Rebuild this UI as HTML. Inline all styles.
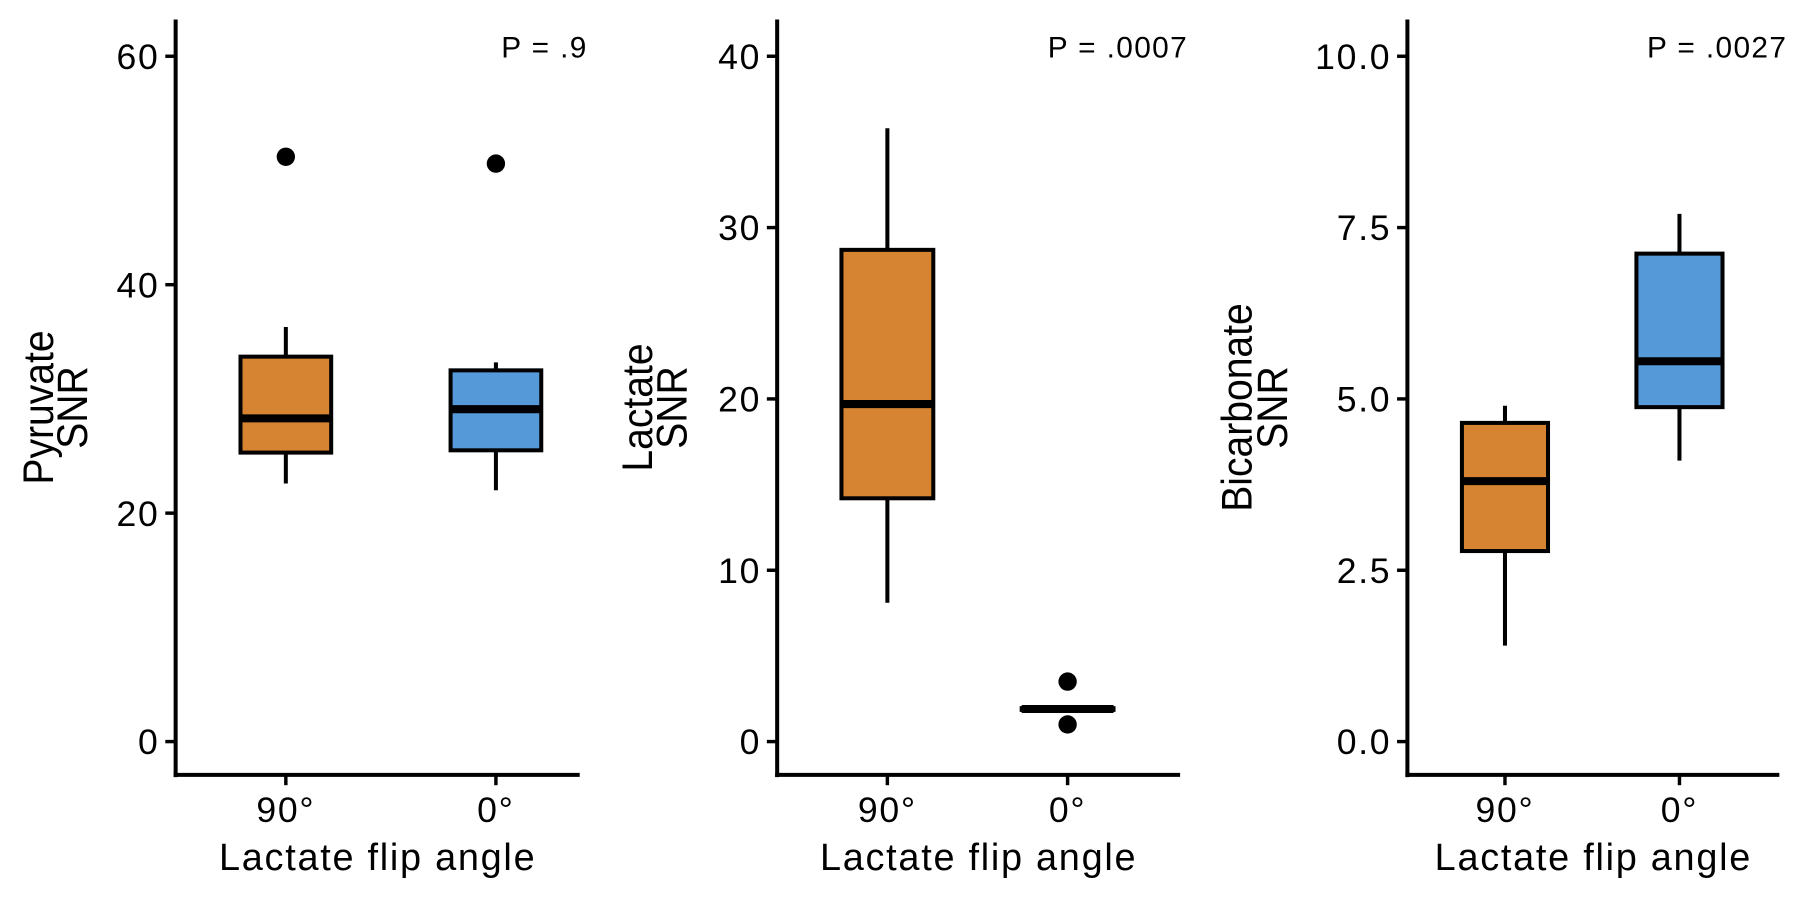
<!DOCTYPE html>
<html><head><meta charset="utf-8"><style>
html,body{margin:0;padding:0;background:#fff;}
svg{display:block;font-family:"Liberation Sans",Arial,sans-serif;}
</style></head><body>
<svg id="chart" width="1800" height="900" viewBox="0 0 1568 784" xmlns="http://www.w3.org/2000/svg"></svg>
<script>
const categories = ["90°", "0°"];
const panelTitles = ["Pyruvate", "Lactate", "Bicarbonate"];
const pValues = ["P = .9", "P = .0007", "P = .0027"];
const pyrTicks = [0, 20, 40, 60];
const lacTicks = [0, 10, 20, 30, 40];
const bicTicks = [0, 2.5, 5, 7.5, 10];
const bicTickLabels = ["0.0", "2.5", "5.0", "7.5", "10.0"];
// [whiskerLow, q1, median, q3, whiskerHigh]
const pyrStats = [[22.6, 25.3, 28.3, 33.7, 36.3], [22.0, 25.5, 29.1, 32.5, 33.2]];
const pyrOutliers = [[51.2], [50.6]];
const lacStats = [[8.1, 14.2, 19.7, 28.7, 35.8], [1.9, 1.85, 1.9, 1.95, 1.9]];
const lacOutliers = [[], [3.5, 1.0]];
const bicStats = [[1.4, 2.78, 3.8, 4.65, 4.9], [4.1, 4.88, 5.55, 7.12, 7.7]];
const bicOutliers = [[], []];
const colors = ["#D68432", "#5599D8"];

const NS = "http://www.w3.org/2000/svg";
const svg = document.getElementById("chart");
function mk(tag, attrs, parent) {
  const e = document.createElementNS(NS, tag);
  for (const k in attrs) e.setAttribute(k, attrs[k]);
  (parent || svg).appendChild(e);
  return e;
}
const panels = [
  {ax: 153, xEnd: 505, cx: [249, 432], bw: 79, max: 60, ticks: pyrTicks, labels: pyrTicks.map(String), stats: pyrStats, out: pyrOutliers, tx: [33, 63], pName: "pyruvate"},
  {ax: 677, xEnd: 1028, cx: [773, 930], bw: 80, max: 40, ticks: lacTicks, labels: lacTicks.map(String), stats: lacStats, out: lacOutliers, tx: [555, 585], pName: "lactate"},
  {ax: 1226, xEnd: 1550, cx: [1311, 1463], bw: 75, max: 10, ticks: bicTicks, labels: bicTickLabels, stats: bicStats, out: bicOutliers, tx: [1077, 1108], pName: "bicarbonate"}
];
const Y0 = 646, Y1 = 49;
panels.forEach((p, pi) => {
  const y = v => Y0 - (v / p.max) * (Y0 - Y1);
  const g = mk("g", {});
  
  
  const ya = mk("line", {x1: p.ax, y1: 17, x2: p.ax, y2: 677, stroke: "#000", "stroke-width": 3.5}, g);
  
  
  const xa = mk("line", {x1: p.ax - 1.75, y1: 675, x2: p.xEnd, y2: 675, stroke: "#000", "stroke-width": 3.5}, g);
  
  
  p.ticks.forEach((t, i) => {
    const ty = y(t);
    const tk = mk("line", {x1: p.ax - 9, y1: ty, x2: p.ax, y2: ty, stroke: "#000", "stroke-width": 3}, g);
    
    
    const tl = mk("text", {x: p.ax - 14, y: ty + 11, "text-anchor": "end", "font-size": 31, "letter-spacing": 1.5, fill: "#000"}, g);
    tl.textContent = p.labels[i];
    
    
  });
  categories.forEach((c, i) => {
    const tk = mk("line", {x1: p.cx[i], y1: 675, x2: p.cx[i], y2: 684, stroke: "#000", "stroke-width": 3}, g);
    
    
    const tl = mk("text", {x: p.cx[i], y: 716, "text-anchor": "middle", "font-size": 31, "letter-spacing": 1.5, fill: "#000"}, g);
    tl.textContent = c;
    
    
    const s = p.stats[i];
    const cx = p.cx[i], hw = p.bw / 2;
    const w1 = mk("line", {x1: cx, y1: y(s[0]), x2: cx, y2: y(s[4]), stroke: "#000", "stroke-width": 3.5}, g);
    
    
    const r = mk("rect", {x: cx - hw, y: y(s[3]), width: p.bw, height: Math.max(0.5, y(s[1]) - y(s[3])), fill: colors[i], stroke: "#000", "stroke-width": 3.5}, g);
    
    
    const m = mk("line", {x1: cx - hw, y1: y(s[2]), x2: cx + hw, y2: y(s[2]), stroke: "#000", "stroke-width": 7}, g);
    
    
    p.out[i].forEach(v => {
      const o = mk("circle", {cx: cx, cy: y(v), r: 8, fill: "#000"}, g);
      
      
    });
  });
  const xt = mk("text", {x: (p.ax + p.xEnd) / 2, y: 758, "text-anchor": "middle", "font-size": 33, "letter-spacing": 1.5, fill: "#000"}, g);
  xt.textContent = "Lactate flip angle";
  
  
  const yt = mk("text", {transform: `translate(${p.tx[0] + 13},355) rotate(-90) scale(0.92,1)`, "text-anchor": "middle", "font-size": 37, fill: "#000"}, g);
  yt.textContent = panelTitles[pi];
  
  
  const yt2 = mk("text", {transform: `translate(${p.tx[1] + 13},355) rotate(-90) scale(0.92,1)`, "text-anchor": "middle", "font-size": 37, fill: "#000"}, g);
  yt2.textContent = "SNR";
  
  
  const pv = mk("text", {x: p.xEnd + 7, y: 50, "text-anchor": "end", "font-size": 26, "letter-spacing": 1.2, fill: "#000"}, g);
  pv.textContent = pValues[pi];
  
  
});
</script>
</body></html>
